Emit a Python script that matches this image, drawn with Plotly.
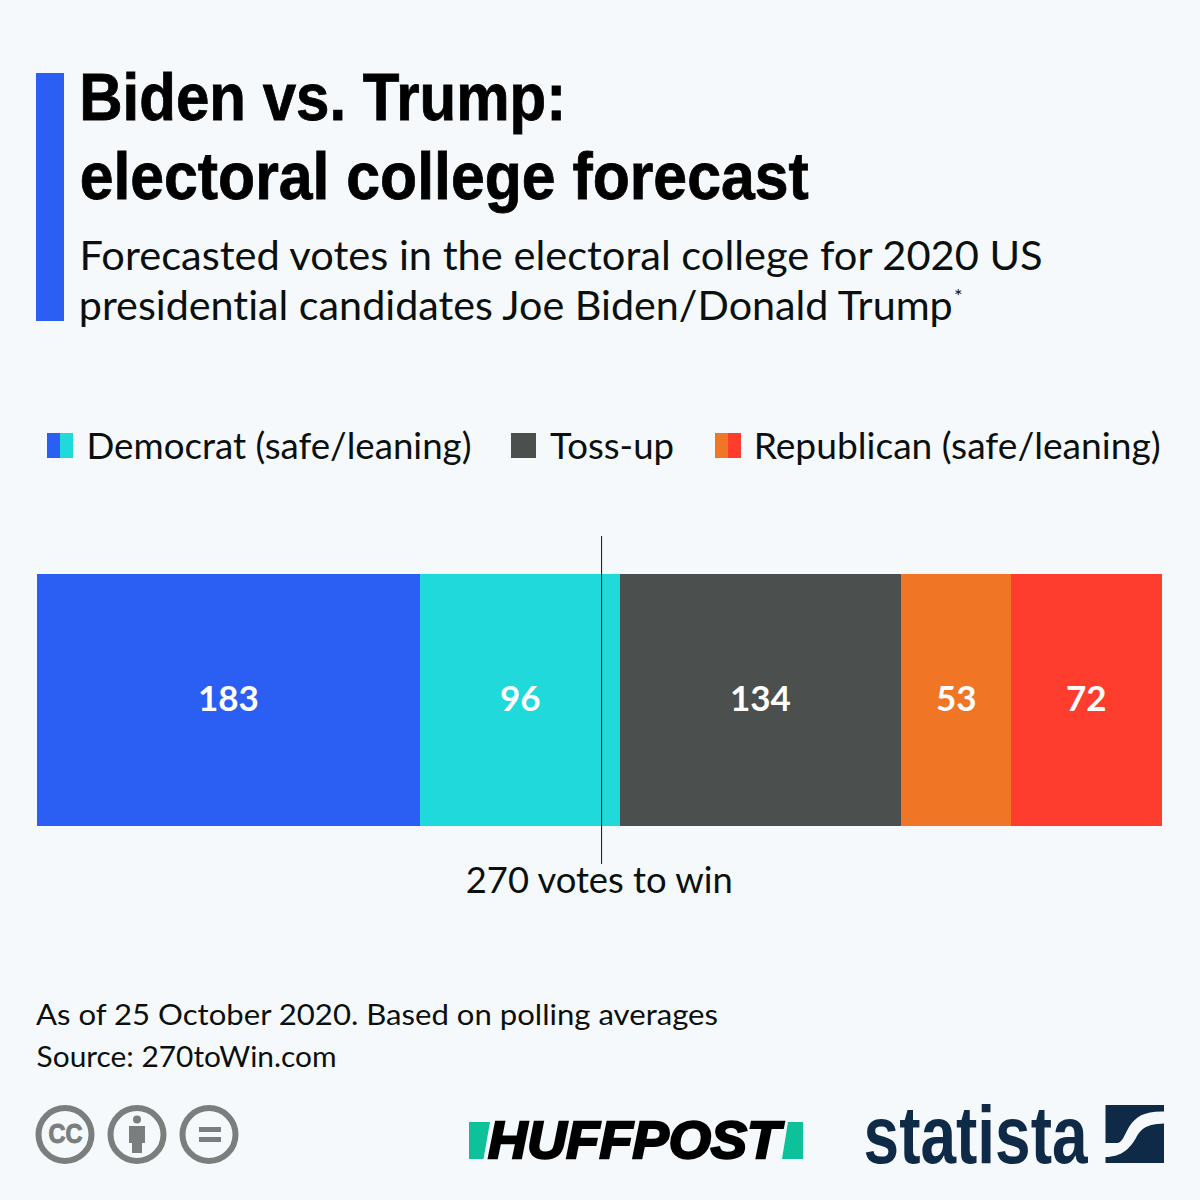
import json
import plotly.graph_objects as go

series_names = ["Democrat safe", "Democrat leaning", "Toss-up", "Republican leaning", "Republican safe"]
series_values = [183, 96, 134, 53, 72]
series_colors = ["#2B5FF3", "#1FD9DB", "#4B504E", "#F07524", "#FF3D2E"]
threshold = 270
total_votes = 538

BG = "#F5F9FC"
INK = "#0B100E"
BODY = "Lato"
W = H = 1200

def px(v): return v / W
def py(v): return 1 - v / H

fig = go.Figure()
ann = []
cum = 0
for n, v, c in zip(series_names, series_values, series_colors):
    fig.add_trace(go.Bar(
        name=n, x=[v], y=["Votes"], orientation="h",
        marker=dict(color=c, line=dict(width=0)), hoverinfo="x+name",
    ))
    ann.append(dict(xref="x", yref="y", x=cum + v / 2, y="Votes", text=str(v), showarrow=False,
                    xanchor="center", yanchor="middle", yshift=3,
                    font=dict(family=BODY, size=35, color="white", weight=700)))
    cum += v

fit = {}
def text(x, y, s, size, family=BODY, color=INK, weight=400, width=None, stroke=0, style="normal"):
    """x is the left edge when width is given (the text is fitted to it), otherwise the centre."""
    cx = x + width / 2 if width else x
    if width:
        fit[s] = [width, stroke]
    ann.append(dict(xref="paper", yref="paper", x=px(cx), y=py(y), text=s, showarrow=False,
                    xanchor="center", yanchor="middle", borderpad=0,
                    font=dict(family=family, size=size, color=color, weight=weight, style=style)))

TITLE = "Liberation Sans"
text(79, 97, "Biden vs. Trump:", 66, TITLE, "#000000", 700, 487, 0.8)
text(79, 176, "electoral college forecast", 66, TITLE, "#000000", 700, 729, 0.8)
text(79, 255, "Forecasted votes in the electoral college for 2020 US", 40, width=963)
text(79, 305, "presidential candidates Joe Biden/Donald Trump", 40, width=874)
text(958, 295, "*", 20)
text(86, 445, "Democrat (safe/leaning)", 36, width=385)
text(550, 445, "Toss-up", 36, width=124)
text(753, 445, "Republican (safe/leaning)", 36, width=407)
text(466, 879, "270 votes to win", 36, width=267)
text(36, 1013, "As of 25 October 2020. Based on polling averages", 29, width=682)
text(36, 1055, "Source: 270toWin.com", 29, width=300)
text(48, 1134, "CC", 27, "Liberation Sans", "#7A7F7E", 700, 34, 1)
text(490, 1140, "HUFFPOST", 52, "Liberation Sans", "#000000", 700, 292, 2.4, "italic")
text(864, 1134, "statista", 82, "Liberation Sans", "#0F2A47", 700, 224, 0)

shapes = []
def rect(x0, y0, x1, y1, c):
    shapes.append(dict(type="rect", xref="paper", yref="paper", x0=px(x0), x1=px(x1), y0=py(y0), y1=py(y1),
                       fillcolor=c, line=dict(width=0), layer="above"))
def circle(cx, cy, r, c, w=6, fill="rgba(0,0,0,0)"):
    shapes.append(dict(type="circle", xref="paper", yref="paper", x0=px(cx - r), x1=px(cx + r), y0=py(cy + r), y1=py(cy - r),
                       fillcolor=fill, line=dict(color=c, width=w), layer="above"))
def path(d, c):
    shapes.append(dict(type="path", xref="paper", yref="paper", path=d, fillcolor=c, line=dict(width=0), layer="above"))
def P(a, b): return f"{px(a)},{py(b)}"
def poly(points, c):
    path("M" + " L".join(P(a, b) for a, b in points) + " Z", c)

rect(36, 73, 64, 321, series_colors[0])
rect(47, 433, 60, 458, series_colors[0])
rect(60, 433, 73, 458, series_colors[1])
rect(511, 433, 536, 458, series_colors[2])
rect(715, 433, 728, 458, series_colors[3])
rect(728, 433, 741, 458, series_colors[4])

shapes.append(dict(type="line", xref="x", yref="paper", x0=threshold, x1=threshold, y0=py(864), y1=py(536),
                   line=dict(color="#111111", width=1), layer="above"))

GREY = "#7A7F7E"
circle(65, 1134.5, 26.5, GREY)
circle(137, 1134.5, 26.5, GREY)
circle(209, 1134.5, 26.5, GREY)
circle(137, 1119.5, 4, GREY, 0, GREY)
rect(129, 1126, 145, 1143, GREY)
rect(132, 1143, 142, 1153, GREY)
rect(199, 1127, 221, 1132, GREY)
rect(199, 1137, 221, 1142, GREY)

GREEN = "#0DC19A"
poly([(469, 1122), (490, 1122), (483.5, 1159), (469, 1159)], GREEN)
poly([(788, 1122), (803, 1122), (803, 1159), (782, 1159)], GREEN)

NAVY = "#0F2A47"
path("M" + P(1105.5, 1105) + " L" + P(1164, 1105) + " L" + P(1164, 1111.5)
     + " C" + P(1145, 1111) + " " + P(1136, 1116) + " " + P(1129, 1127)
     + " C" + P(1124, 1136) + " " + P(1122, 1143) + " " + P(1117, 1143)
     + " L" + P(1105.5, 1143) + " Z", NAVY)
path("M" + P(1164, 1123.5) + " L" + P(1164, 1163) + " L" + P(1105.5, 1163) + " L" + P(1105.5, 1157)
     + " C" + P(1122, 1157) + " " + P(1130, 1148) + " " + P(1136, 1138)
     + " C" + P(1141, 1129) + " " + P(1146, 1124) + " " + P(1164, 1123.5) + " Z", NAVY)

fig.update_layout(
    width=W, height=H, barmode="stack", bargap=0, showlegend=False,
    paper_bgcolor=BG, plot_bgcolor=BG,
    margin=dict(l=0, r=0, t=0, b=0),
    xaxis=dict(domain=[px(37), px(1162)], range=[0, total_votes], visible=False),
    yaxis=dict(domain=[py(826), py(574)], visible=False),
    annotations=ann, shapes=shapes,
)
post = """
document.body.style.margin='0';
var fit = %s;
document.querySelectorAll('.annotation-text').forEach(function(t){
  t.style.fontVariantLigatures = 'none';
  var f = fit[t.textContent];
  if(!f) return;
  t.setAttribute('textLength', f[0]);
  t.setAttribute('lengthAdjust', 'spacingAndGlyphs');
  if(f[1]){ t.style.stroke = t.style.fill; t.style.strokeWidth = f[1] + 'px'; }
});
""" % json.dumps(fit)
fig.write_html("out.html", post_script=post, config={"displayModeBar": False})
